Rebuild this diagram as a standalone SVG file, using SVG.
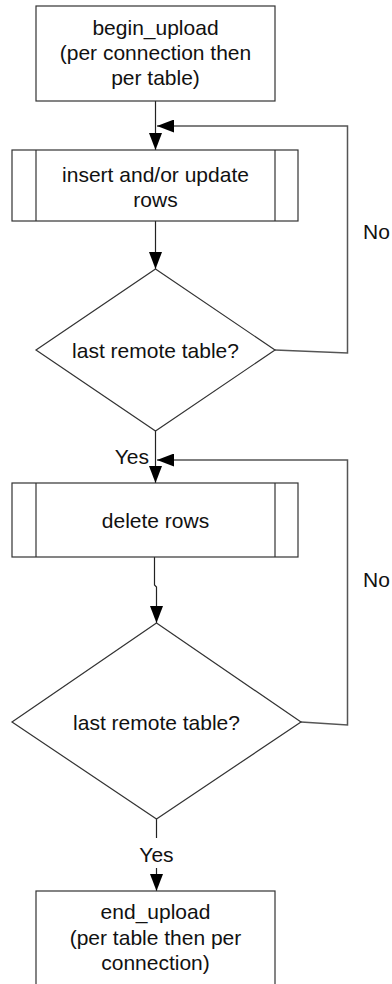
<svg xmlns="http://www.w3.org/2000/svg" width="392" height="984" viewBox="0 0 392 984">
  <defs>
    <marker id="arrow" markerUnits="userSpaceOnUse" markerWidth="18" markerHeight="13" refX="17" refY="6.5" orient="auto">
      <path d="M0,0 L17,6.5 L0,13 Z" fill="#000"/>
    </marker>
  </defs>
  <style>
    .shape { fill: #fff; stroke: #333; stroke-width: 1.2; }
    .bar { stroke: #333; stroke-width: 1.2; }
    .edge { fill: none; stroke: #222; stroke-width: 1.2; }
    .loop { fill: none; stroke: #555; stroke-width: 1.5; }
    text { font-family: "Liberation Sans", Arial, sans-serif; font-size: 21px; fill: #111; }
    .c { text-anchor: middle; }
  </style>
  <rect width="392" height="984" fill="#fff"/>

  <!-- connectors -->
  <g id="connectors">
    <path class="edge" d="M155.5,101 V150" marker-end="url(#arrow)"/>
    <path class="edge" d="M155.5,221 V269" marker-end="url(#arrow)"/>
    <path class="loop" d="M275,350 L347.5,353 V126 H157" marker-end="url(#arrow)"/>
    <path class="edge" d="M155.5,431 V483" marker-end="url(#arrow)"/>
    <path class="loop" d="M301,722 L347.5,725 V460 H157" marker-end="url(#arrow)"/>
    <path class="edge" d="M154.5,557 V585 L156.5,587 V623" marker-end="url(#arrow)"/>
    <path class="edge" d="M156.5,819 V838"/>
    <path class="edge" d="M156.5,868 V891" marker-end="url(#arrow)"/>
    <text x="363" y="239">No</text>
    <text x="363" y="587">No</text>
    <text x="149" y="464" text-anchor="end">Yes</text>
    <text x="156.5" y="862" class="c">Yes</text>
  </g>

  <!-- begin upload -->
  <g id="begin_upload">
    <rect class="shape" x="36" y="6" width="239" height="95"/>
    <text class="c" x="155.5" y="35">begin_upload</text>
    <text class="c" x="155.5" y="60">(per connection then</text>
    <text class="c" x="155.5" y="85">per table)</text>
  </g>

  <!-- insert/update rows process -->
  <g id="insert_update_rows">
    <rect class="shape" x="12" y="150" width="286" height="71"/>
    <line class="bar" x1="36" y1="150" x2="36" y2="221"/>
    <line class="bar" x1="275" y1="150" x2="275" y2="221"/>
    <text class="c" x="155.5" y="182">insert and/or update</text>
    <text class="c" x="155.5" y="207">rows</text>
  </g>

  <!-- first decision -->
  <g id="last_remote_table_1">
    <polygon class="shape" points="155.5,269 275,350 155.5,431 36,350"/>
    <text class="c" x="155.5" y="357.5">last remote table?</text>
  </g>

  <!-- delete rows process -->
  <g id="delete_rows">
    <rect class="shape" x="12" y="483" width="286" height="74"/>
    <line class="bar" x1="36" y1="483" x2="36" y2="557"/>
    <line class="bar" x1="275" y1="483" x2="275" y2="557"/>
    <text class="c" x="155.5" y="527.5">delete rows</text>
  </g>

  <!-- second decision -->
  <g id="last_remote_table_2">
    <polygon class="shape" points="156.5,623 301,722 156.5,819 12,722"/>
    <text class="c" x="156.5" y="729.5">last remote table?</text>
  </g>

  <!-- end upload -->
  <g id="end_upload">
    <rect class="shape" x="36" y="891" width="239" height="100"/>
    <text class="c" x="155.5" y="919">end_upload</text>
    <text class="c" x="155.5" y="945">(per table then per</text>
    <text class="c" x="155.5" y="970">connection)</text>
  </g>
</svg>
